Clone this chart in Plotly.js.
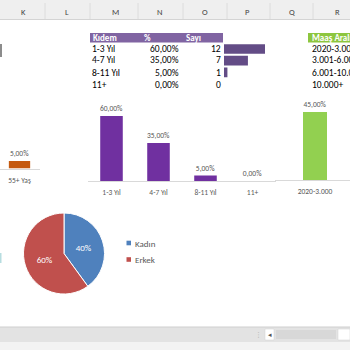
<!DOCTYPE html>
<html><head><meta charset="utf-8">
<script src="https://cdn.plot.ly/plotly-3.0.1.min.js"></script>
<style>html,body{margin:0;padding:0;background:#fff;overflow:hidden}#chart{width:350px;height:350px;}</style>
</head><body><div id="chart"></div>
<script>
// ---- data ----
const columnLetters = ['K','L','M','N','O','P','Q','R'];
const kidemHeaders = ['Kıdem','%','Sayı'];
const kidemLabels = ['1-3 Yıl','4-7 Yıl','8-11 Yıl','11+'];
const kidemPct = [0.60, 0.35, 0.05, 0.00];
const kidemCount = [12, 7, 1, 0];
const salaryHeader = 'Maaş Aralığı';
const salaryLabels = ['2020-3.000','3.001-6.000','6.001-10.000','10.000+'];
const salaryPct = [0.45];
const ageLabels = ['55+ Yaş'];
const agePct = [0.05];
const genderLabels = ['Kadın','Erkek'];
const genderValues = [40, 60];
const genderColors = ['#4f81bd','#c0504d'];

// ---- helpers ----
const W = 350, H = 350;
const px = x => x / W;
const py = y => 1 - y / H;
const FONT = 'Carlito, Lato, "Open Sans", sans-serif';
const LBL = '#595959';

const traces = [
  { type:'bar', x: ageLabels, y: agePct, xaxis:'x', yaxis:'y',
    marker:{color:'#c55a11'}, width:0.52, texttemplate:'%{y:.2%}',
    textposition:'outside', cliponaxis:false, constraintext:'none',
    textfont:{size:7.5, color:LBL, family:FONT}, showlegend:false, hoverinfo:'skip' },
  { type:'bar', x: kidemLabels, y: kidemPct, xaxis:'x2', yaxis:'y2',
    marker:{color:'#7030a0'}, width:0.48, texttemplate:'%{y:.2%}',
    textposition:'outside', cliponaxis:false, constraintext:'none',
    textfont:{size:7.5, color:LBL, family:FONT}, showlegend:false, hoverinfo:'skip' },
  { type:'bar', x: salaryLabels.slice(0, salaryPct.length), y: salaryPct, xaxis:'x3', yaxis:'y3',
    marker:{color:'#92d050'}, width:0.3, texttemplate:'%{y:.2%}',
    textposition:'outside', cliponaxis:false, constraintext:'none',
    textfont:{size:7.5, color:LBL, family:FONT}, showlegend:false, hoverinfo:'skip' },
  { type:'bar', orientation:'h', x: kidemCount, y: kidemLabels, xaxis:'x4', yaxis:'y4',
    marker:{color:'#634c86'}, width:0.83, showlegend:false, hoverinfo:'skip' },
  { type:'pie', labels: genderLabels, values: genderValues, sort:false, direction:'clockwise',
    rotation:0, marker:{colors: genderColors, line:{color:'#ffffff', width:1}},
    textinfo:'percent', textposition:'inside', insidetextorientation:'horizontal',
    textfont:{size:9, color:'#ffffff', family:FONT},
    domain:{x:[px(23), px(105)], y:[py(294), py(213)]}, showlegend:false, hoverinfo:'skip' }
];

const hiddenY = {visible:false, fixedrange:true};
const catX = (dom, rng, anchor) => ({domain:dom, range:rng, anchor:anchor, type:'category', showline:true, linecolor:'#d9d9d9',
  linewidth:1, showgrid:false, zeroline:false, ticks:'', ticklabelstandoff:4,
  tickfont:{size:7.5, color:LBL, family:FONT}, fixedrange:true});

const layout = {
  width: W, height: H, margin:{l:0,r:0,t:0,b:0}, paper_bgcolor:'#ffffff', plot_bgcolor:'rgba(0,0,0,0)',
  separators: ',.', font:{family:FONT}, showlegend:false,
  xaxis: catX([0, px(40)], [-0.476, 0.5], 'y'),
  yaxis: Object.assign({domain:[py(168.5), py(93.5)], range:[0,0.5], anchor:'x'}, hiddenY),
  xaxis2: catX([px(88), px(276)], [-0.5, 3.5], 'y2'),
  yaxis2: Object.assign({domain:[py(181), py(105.2)], range:[0,0.7], anchor:'x2'}, hiddenY),
  xaxis3: catX([px(275), 1], [-0.5, 0.4375], 'y3'),
  yaxis3: Object.assign({domain:[py(180), py(104.5)], range:[0,0.5], anchor:'x3'}, hiddenY),
  xaxis4: {domain:[px(224), px(265)], range:[0,12], visible:false, fixedrange:true, anchor:'y4'},
  yaxis4: {domain:[py(89.8), py(43.2)], type:'category', range:[3.5,-0.5], visible:false, fixedrange:true, anchor:'x4'},
  shapes: [], annotations: []
};

// column header row
layout.shapes.push({type:'rect', xref:'paper', yref:'paper', x0:0, x1:1, y0:py(19), y1:1,
  fillcolor:'#efefef', line:{width:0}, layer:'below'});
layout.shapes.push({type:'line', xref:'paper', yref:'paper', x0:0, x1:1, y0:py(19.5), y1:py(19.5),
  line:{color:'#d4d4d4', width:1}});
const colSeps = [45, 90, 138, 183, 227, 270, 313];
colSeps.forEach(x => layout.shapes.push({type:'line', xref:'paper', yref:'paper', x0:px(x), x1:px(x),
  y0:py(19), y1:py(3), line:{color:'#dcdcdc', width:1}}));
const colCenters = [23, 67, 115, 160, 205, 248, 292, 337];
columnLetters.forEach((c,i) => layout.annotations.push({xref:'paper', yref:'paper', x:px(colCenters[i]), y:py(12),
  text:c, showarrow:false, xanchor:'center', yanchor:'middle', font:{size:8.5, color:'#444444', family:FONT}}));

// Kidem table
layout.shapes.push({type:'rect', xref:'paper', yref:'paper', x0:px(90), x1:px(223), y0:py(42.5), y1:py(33),
  fillcolor:'#8064a2', line:{width:0}, layer:'below'});
const hdrX = [91, 142, 184];
kidemHeaders.forEach((h,i) => layout.annotations.push({xref:'paper', yref:'paper', x:px(hdrX[i]), y:py(37.8),
  text:'<b>'+h+'</b>', showarrow:false, xanchor:'left', yanchor:'middle', font:{size:9, color:'#ffffff', family:FONT}}));
const rowY = [49, 60.5, 72.5, 84.5];
kidemLabels.forEach((lab,i) => {
  layout.annotations.push({xref:'paper', yref:'paper', x:px(90), y:py(rowY[i]), text:lab, showarrow:false,
    xanchor:'left', yanchor:'middle', font:{size:9.5, color:'#000000', family:FONT}});
  layout.annotations.push({xref:'paper', yref:'paper', x:px(181), y:py(rowY[i]),
    text:(kidemPct[i]*100).toFixed(2).replace('.', ',')+'%', showarrow:false,
    xanchor:'right', yanchor:'middle', font:{size:9.5, color:'#000000', family:FONT}});
  layout.annotations.push({xref:'paper', yref:'paper', x:px(223), y:py(rowY[i]), text:String(kidemCount[i]),
    showarrow:false, xanchor:'right', yanchor:'middle', font:{size:9.5, color:'#000000', family:FONT}});
});

// Salary table
layout.shapes.push({type:'rect', xref:'paper', yref:'paper', x0:px(308), x1:1.05, y0:py(42.5), y1:py(33),
  fillcolor:'#8dc63f', line:{width:0}, layer:'below'});
layout.annotations.push({xref:'paper', yref:'paper', x:px(310), y:py(37.8), text:'<b>'+salaryHeader+'</b>',
  showarrow:false, xanchor:'left', yanchor:'middle', font:{size:9, color:'#ffffff', family:FONT}});
salaryLabels.forEach((lab,i) => layout.annotations.push({xref:'paper', yref:'paper', x:px(310), y:py(rowY[i]),
  text:lab, showarrow:false, xanchor:'left', yanchor:'middle', font:{size:9.5, color:'#000000', family:FONT}}));

// pie legend (built from pie arrays)
const legY = [243, 259.5];
genderLabels.forEach((lab,i) => {
  layout.shapes.push({type:'rect', xref:'paper', yref:'paper', x0:px(126.5), x1:px(131), y0:py(legY[i]+2.3), y1:py(legY[i]-2.3),
    fillcolor:genderColors[i], line:{width:0}});
  layout.annotations.push({xref:'paper', yref:'paper', x:px(133), y:py(legY[i]), text:lab, showarrow:false,
    xanchor:'left', yanchor:'middle', font:{size:9, color:LBL, family:FONT}});
});

// small cut-off chart fragments at left edge
layout.shapes.push({type:'rect', xref:'paper', yref:'paper', x0:0, x1:px(2), y0:py(57), y1:py(44),
  fillcolor:'#8c8c8c', line:{width:0}});
layout.shapes.push({type:'rect', xref:'paper', yref:'paper', x0:0, x1:px(1.5), y0:py(263), y1:py(253),
  fillcolor:'#b7dde0', line:{width:0}});

// bottom sheet bar
layout.shapes.push({type:'rect', xref:'paper', yref:'paper', x0:0, x1:1, y0:0, y1:py(342),
  fillcolor:'#f3f3f3', line:{width:0}});
layout.shapes.push({type:'rect', xref:'paper', yref:'paper', x0:0, x1:1, y0:py(342), y1:py(327),
  fillcolor:'#e3e3e3', line:{width:0}});
layout.shapes.push({type:'line', xref:'paper', yref:'paper', x0:0, x1:1, y0:py(327), y1:py(327),
  line:{color:'#cfcfcf', width:1}});
layout.shapes.push({type:'rect', xref:'paper', yref:'paper', x0:px(265), x1:px(274), y0:py(340), y1:py(329),
  fillcolor:'#ffffff', line:{color:'#d0d0d0', width:0.5}});
layout.shapes.push({type:'rect', xref:'paper', yref:'paper', x0:px(276), x1:px(336), y0:py(339), y1:py(330),
  fillcolor:'#d8d8d8', line:{width:0}});
layout.shapes.push({type:'rect', xref:'paper', yref:'paper', x0:px(338), x1:1, y0:py(340), y1:py(329),
  fillcolor:'#ffffff', line:{color:'#d0d0d0', width:0.5}});
layout.annotations.push({xref:'paper', yref:'paper', x:px(269.5), y:py(334.5), text:'◂', showarrow:false,
  xanchor:'center', yanchor:'middle', font:{size:7, color:'#555555', family:'DejaVu Sans'}});
layout.annotations.push({xref:'paper', yref:'paper', x:px(258), y:py(334.5), text:'⋮', showarrow:false,
  xanchor:'center', yanchor:'middle', font:{size:7, color:'#aaaaaa', family:'DejaVu Sans'}});

Plotly.newPlot('chart', traces, layout, {staticPlot:true, displayModeBar:false});
</script></body></html>
